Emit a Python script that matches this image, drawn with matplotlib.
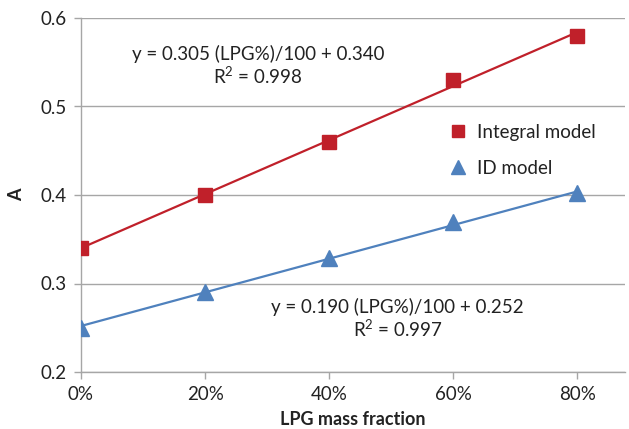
import matplotlib
matplotlib.use("Agg")
import matplotlib.pyplot as plt
import numpy as np

x_frac = [0.0, 0.2, 0.4, 0.6, 0.8]
integral_vals = [0.340, 0.400, 0.460, 0.530, 0.580]
id_vals = [0.250, 0.290, 0.329, 0.370, 0.402]
integral_fit = [0.305, 0.340]
id_fit = [0.190, 0.252]
x_ticks = [0.0, 0.2, 0.4, 0.6, 0.8]
x_tick_labels = ["0%", "20%", "40%", "60%", "80%"]
y_ticks = [0.2, 0.3, 0.4, 0.5, 0.6]
y_tick_labels = ["0.2", "0.3", "0.4", "0.5", "0.6"]

plt.rcParams['font.family'] = ['Lato', 'DejaVu Sans']
red = '#C0202A'
blue = '#4F81BD'
grid = '#A6A6A6'
txt = '#222222'

fig = plt.figure(figsize=(6.29, 4.29), dpi=100)
ax = fig.add_axes([81/629, 57/429, (625-81)/629, (372-18)/429])

xs = np.array([x_frac[0], x_frac[-1]])
ax.plot(xs, integral_fit[0]*xs + integral_fit[1], color=red, lw=1.6, zorder=2)
ax.plot(xs, id_fit[0]*xs + id_fit[1], color=blue, lw=1.6, zorder=2)
ax.plot(x_frac, integral_vals, 's', color=red, ms=10, label='Integral model', zorder=3)
ax.plot(x_frac, id_vals, '^', color=blue, ms=12, label='ID model', zorder=3)

ax.set_xlim(0, 0.877)
ax.set_ylim(0.2, 0.6)
ax.set_xticks(x_ticks)
ax.set_xticklabels(x_tick_labels)
ax.set_yticks(y_ticks)
ax.set_yticklabels(y_tick_labels)
ax.yaxis.grid(True, color=grid, lw=1)
ax.set_axisbelow(True)
for s in ['top', 'right']:
    ax.spines[s].set_visible(False)
for s in ['left', 'bottom']:
    ax.spines[s].set_color(grid)
    ax.spines[s].set_linewidth(1)
ax.tick_params(axis='both', colors=grid, labelcolor=txt, labelsize=13.5, length=5, width=1)
ax.tick_params(axis='x', pad=5)
ax.tick_params(axis='y', pad=5)
ax.set_xlabel('LPG mass fraction', fontsize=13, fontweight='bold', color=txt, labelpad=6)
ax.set_ylabel('A', fontsize=13, fontweight='bold', color=txt, labelpad=11)

ax.text(0.285, 0.5458, 'y = 0.305 (LPG%)/100 + 0.340\n$\\mathregular{R^2}$ = 0.998', ha='center', va='center',
        fontsize=13.5, color=txt, linespacing=1.15)
ax.text(0.51, 0.26, 'y = 0.190 (LPG%)/100 + 0.252\n$\\mathregular{R^2}$ = 0.997', ha='center', va='center',
        fontsize=13.5, color=txt, linespacing=1.15)

leg = ax.legend(loc='upper left', bbox_to_anchor=((432-81)/544, (372-107)/354), frameon=False,
                fontsize=13.5, handlelength=1.0, handletextpad=0.5, labelspacing=1.0, numpoints=1,
                markerscale=0.85)
for t in leg.get_texts():
    t.set_color(txt)

fig.savefig('out.png', dpi=100)
